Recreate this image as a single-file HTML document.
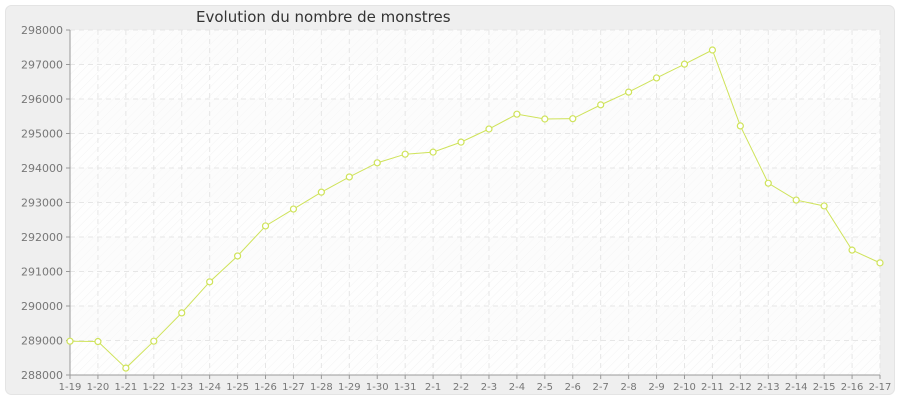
<!DOCTYPE html>
<html><head><meta charset="utf-8"><style>
body{margin:0;background:#fff;}
svg{display:block;font-family:"DejaVu Sans","Liberation Sans",sans-serif;}
</style></head><body>
<svg id="c" width="900" height="400">
<defs>
<pattern id="hatch" width="6" height="6" patternUnits="userSpaceOnUse" patternTransform="rotate(45)">
<rect width="6" height="6" fill="#fefefe"/><line x1="0" y1="0" x2="0" y2="6" stroke="#f3f3f3" stroke-width="1"/>
</pattern>
</defs>
<rect x="5.5" y="5.5" width="889" height="389" rx="6" fill="#efefef" stroke="#e4e4e4"/>
<text x="196" y="22" font-size="15" fill="#333">Evolution du nombre de monstres</text>
<g id="plot"></g>
</svg>
<script>
const categories=["1-19","1-20","1-21","1-22","1-23","1-24","1-25","1-26","1-27","1-28","1-29","1-30","1-31","2-1","2-2","2-3","2-4","2-5","2-6","2-7","2-8","2-9","2-10","2-11","2-12","2-13","2-14","2-15","2-16","2-17"];
const values=[288980,288970,288200,288980,289800,290700,291450,292320,292810,293300,293740,294150,294400,294460,294750,295130,295560,295420,295430,295830,296200,296610,297010,297420,295220,293560,293070,292900,291620,291250];
const yTicks=[288000,289000,290000,291000,292000,293000,294000,295000,296000,297000,298000];
const L=70,R=880,T=30,B=375,ymin=288000,ymax=298000;
const xs=i=>L+i*(R-L)/(categories.length-1);
const ys=v=>B-(v-ymin)/(ymax-ymin)*(B-T);
const NS="http://www.w3.org/2000/svg";
const g=document.getElementById('plot');
function mk(t,a){const e=document.createElementNS(NS,t);for(const k in a)e.setAttribute(k,a[k]);g.appendChild(e);return e;}
let e=mk('rect',{x:L,y:T,width:R-L,height:B-T,fill:'url(#hatch)'});


yTicks.forEach((v,i)=>{
 if(i%2===1&&i<yTicks.length-1){let b=mk('rect',{x:L,y:ys(yTicks[i+1]),width:R-L,height:ys(v)-ys(yTicks[i+1]),fill:'#f9f9f9',opacity:0.5});}
});
yTicks.forEach(v=>{
 const y=ys(v);
 let l=mk('line',{x1:L,x2:R,y1:y,y2:y,stroke:'#e6e6e6','stroke-dasharray':'5,4'});
 
 
 let tk=mk('line',{x1:L-4,x2:L,y1:y,y2:y,stroke:'#999'});
 
 
 let t=mk('text',{x:L-7,y:y+4,'font-size':11,fill:'#777','text-anchor':'end'});t.textContent=v;
 
 
});
categories.forEach((c,i)=>{
 const x=xs(i);
 let l=mk('line',{x1:x,x2:x,y1:T,y2:B,stroke:'#e6e6e6','stroke-dasharray':'5,4'});
 
 
 let tk=mk('line',{x1:x,x2:x,y1:B,y2:B+4,stroke:'#999'});
 
 
 let t=mk('text',{x:x,y:B+15,'font-size':10,fill:'#777','text-anchor':'middle'});t.textContent=c;
 
 
});
let ax=mk('line',{x1:L,x2:L,y1:T,y2:B,stroke:'#999'});


let bx=mk('line',{x1:L,x2:R,y1:B,y2:B,stroke:'#999'});


let p=mk('polyline',{points:values.map((v,i)=>xs(i)+','+ys(v)).join(' '),fill:'none',stroke:'#cfe35a','stroke-width':1});


values.forEach((v,i)=>{
 let c=mk('circle',{cx:xs(i),cy:ys(v),r:3,fill:'#fff',stroke:'#cfe35a','stroke-width':1.2});
 
 
});
</script>
</body></html>
